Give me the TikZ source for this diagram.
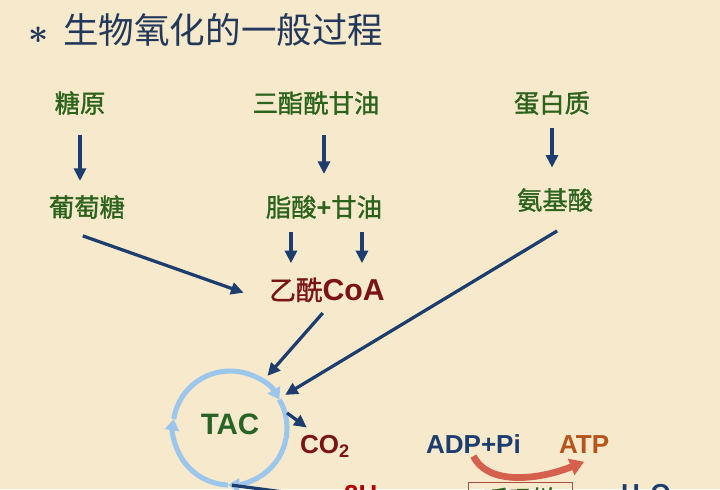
\documentclass[tikz,border=0pt]{standalone}
\usepackage{fontspec}
\newfontfamily\cjk[FakeBold=1.3]{Noto Sans CJK SC}
\newfontfamily\cjktitle{Noto Sans CJK SC}
\newfontfamily\arial{Liberation Sans}
\usetikzlibrary{arrows.meta}
\definecolor{paper}{HTML}{F6E9CC}
\definecolor{leaf}{HTML}{2C631C}
\definecolor{navy}{HTML}{1C3D6E}
\definecolor{wine}{HTML}{7A1414}
\definecolor{sky}{HTML}{9CC6EC}
\definecolor{rust}{HTML}{B5541C}
\definecolor{salmon}{HTML}{D6604E}
\definecolor{slate}{HTML}{22385A}
\definecolor{tacgreen}{HTML}{286424}
\definecolor{boxline}{HTML}{A8503A}
\begin{document}
\begin{tikzpicture}[x=0.025cm,y=-0.025cm,
  cn/.style={font=\cjk\fontsize{18}{18}\selectfont,text=leaf,inner sep=2pt},
  en/.style={font=\arial\bfseries\fontsize{18.5}{18.5}\selectfont,inner sep=2pt},
  arr/.style={draw=navy,line width=2.3pt,-{Triangle[length=9pt,width=8.5pt]}},
  ring/.style={draw=sky,line width=3.6pt,-{Triangle[length=8pt,width=10pt]}}]

  \useasboundingbox (0,0) rectangle (720,489);
  \fill[paper] (0,0) rectangle (720,489);

  \node[anchor=west,text=slate,font=\cjktitle\fontsize{25.3}{25.3}\selectfont] (title) at (24,30) {{\fontsize{34}{34}\selectfont\boldmath$\ast$}\hspace{10pt}生物氧化的一般过程};

  % sources
  \node[cn] (gly) at (80,103) {糖原};
  \node[cn] (glu) at (87,207) {葡萄糖};
  \node[cn] (tg) at (316,103) {三酯酰甘油};
  \node[cn] (fa) at (324,207) {脂酸{\arial\bfseries +}甘油};
  \node[cn] (pro) at (552,103) {蛋白质};
  \node[cn] (aa) at (555,200) {氨基酸};
  \node[anchor=base,inner sep=2pt,text=wine] (acoa) at (327,300) {{\cjk\fontsize{19}{19}\selectfont 乙酰}{\arial\bfseries\fontsize{21.5}{21.5}\selectfont CoA}};

  \draw[arr,shorten <=12.5pt,shorten >=8pt] (gly.south) -- (gly.south |- glu.north);
  \draw[arr,shorten <=12.5pt,shorten >=13pt] (fa.north |- tg.south) -- (fa.north);
  \draw[arr,shorten <=7pt,shorten >=12.5pt] (pro.south) -- (pro.south |- aa.north);
  \draw[arr,shorten <=7pt,shorten >=8pt] ([xshift=-23.5pt]fa.south) -- ([xshift=-23.5pt]fa.south |- acoa.north);
  \draw[arr,shorten <=7pt,shorten >=8pt] ([xshift=27pt]fa.south) -- ([xshift=27pt]fa.south |- acoa.north);
  \draw[arr] ([shift={(-3pt,-10pt)}]glu.south) -- ([shift={(-16pt,-2pt)}]acoa.west);

  % cycle
  \node[circle,inner sep=0,minimum size=81pt] (cyc) at (230,428) {};
  \draw[ring] (cyc.center) ++(-171:57) arc[start angle=-171,end angle=-30,radius=57];
  \draw[ring] (cyc.center) ++(-30:57) arc[start angle=-30,end angle=92,radius=57];
  \draw[ring] (cyc.center) ++(92:57) arc[start angle=92,end angle=189,radius=57];
  \node[font=\arial\bfseries\fontsize{21}{21}\selectfont,text=tacgreen] (tac) at (230,424) {TAC};

  \draw[arr,shorten >=5pt] ([shift={(-3pt,-5.5pt)}]acoa.south) -- (cyc.55);
  \draw[arr,shorten >=5pt] ([shift={(1.5pt,-11.5pt)}]aa.south) -- (cyc.31);

  % products
  \node[en,anchor=base west,text=wine] (co2) at (297,453) {CO\textsubscript{2}};
  \node[en,anchor=base west,text=navy] (adp) at (423,453) {ADP+Pi};
  \node[en,anchor=base west,text=rust] (atp) at (556,453) {ATP};
  \node[en,anchor=base west,text=red!70!black] (hh) at (341,503) {2H};
  \node[cn,draw=boxline,line width=0.6pt,minimum width=74.5pt,minimum height=24pt] (chain) at (520.5,499) {呼吸链};
  \node[en,anchor=base west,text=navy] (water) at (618,502) {H\textsubscript{2}O};

  \draw[arr,shorten <=2pt] (cyc.17) -- ([shift={(7pt,3pt)}]co2.north west);
  \draw[arr,shorten >=3pt] (cyc.-88) -- ([yshift=-4pt]hh.west);
  \draw[salmon,line width=4.8pt,-{Triangle[length=10pt,width=12pt]}] (adp.south) .. controls +(15,30) and +(-45,18) .. ([yshift=-4pt]atp.south);
\end{tikzpicture}
\end{document}
